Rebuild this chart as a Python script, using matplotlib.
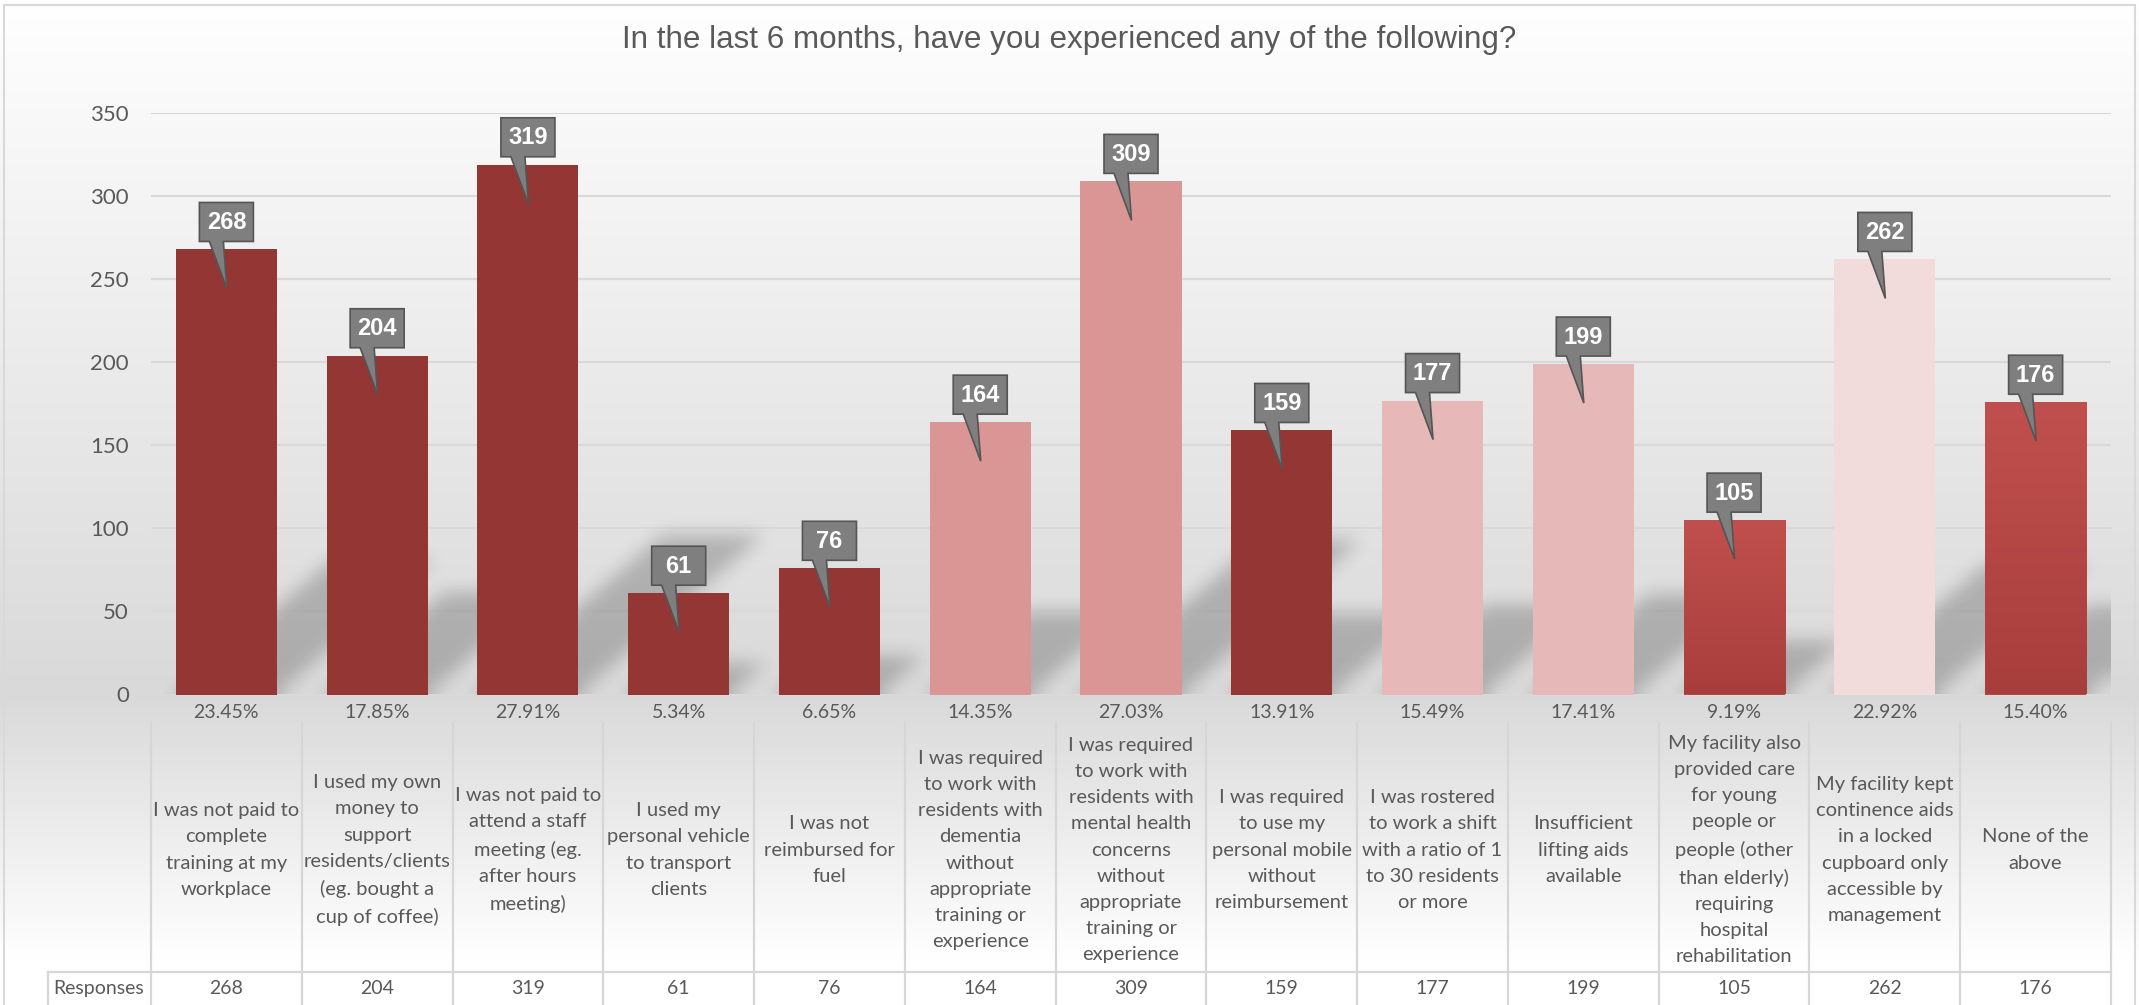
import numpy as np
import matplotlib
matplotlib.use("Agg")
import matplotlib.pyplot as plt
from matplotlib.patches import Polygon, Rectangle
from matplotlib.lines import Line2D
from matplotlib.colors import LinearSegmentedColormap
from matplotlib import transforms

# data
categories = [
    "I was not paid to\ncomplete\ntraining at my\nworkplace",
    "I used my own\nmoney to\nsupport\nresidents/clients\n(eg. bought a\ncup of coffee)",
    "I was not paid to\nattend a staff\nmeeting (eg.\nafter hours\nmeeting)",
    "I used my\npersonal vehicle\nto transport\nclients",
    "I was not\nreimbursed for\nfuel",
    "I was required\nto work with\nresidents with\ndementia\nwithout\nappropriate\ntraining or\nexperience",
    "I was required\nto work with\nresidents with\nmental health\nconcerns\nwithout\nappropriate\ntraining or\nexperience",
    "I was required\nto use my\npersonal mobile\nwithout\nreimbursement",
    "I was rostered\nto work a shift\nwith a ratio of 1\nto 30 residents\nor more",
    "Insufficient\nlifting aids\navailable",
    "My facility also\nprovided care\nfor young\npeople or\npeople (other\nthan elderly)\nrequiring\nhospital\nrehabilitation",
    "My facility kept\ncontinence aids\nin a locked\ncupboard only\naccessible by\nmanagement",
    "None of the\nabove",
]
responses = [268, 204, 319, 61, 76, 164, 309, 159, 177, 199, 105, 262, 176]
percent_labels = ["23.45%", "17.85%", "27.91%", "5.34%", "6.65%", "14.35%", "27.03%",
                  "13.91%", "15.49%", "17.41%", "9.19%", "22.92%", "15.40%"]
title = "In the last 6 months, have you experienced any of the following?"

# styles
bar_colors = ["#943634", "#943634", "#943634", "#943634", "#943634", "#d99694", "#d99694",
              "#943634", "#e6b9b8", "#e6b9b8", "grad", "#f2dcdb", "grad"]
TXT = "#595959"
CAL = ["Lato", "DejaVu Sans"]

W, H = 2139, 1005
fig = plt.figure(figsize=(W / 100, H / 100), dpi=100)

# background gradient (white -> gray at plot bottom -> white)
bg = fig.add_axes([0, 0, 1, 1], zorder=-10)
bg.axis("off")
yy = np.arange(H)
grey = np.interp(yy, [0, 694, 960, H], [255, 217, 255, 255]) / 255.0
grad = np.repeat(grey[:, None], 3, axis=1)[:, None, :]
bg.imshow(grad, aspect="auto", extent=[0, 1, 0, 1], origin="upper")
bg.set_xlim(0, 1)
bg.set_ylim(0, 1)

# main axes
x_left, x_right = 151, 2111
y_top, y_zero = 113.3, 694.5
ax = fig.add_axes([x_left / W, 1 - y_zero / H, (x_right - x_left) / W, (y_zero - y_top) / H])
ax.set_facecolor("none")
for s in ax.spines.values():
    s.set_visible(False)
ax.set_xticks([])
ax.set_yticks(range(0, 351, 50))
ax.tick_params(axis="y", length=0, pad=16, labelcolor=TXT)
for lab in ax.get_yticklabels():
    lab.set_fontfamily(CAL)
    lab.set_fontsize(16)
ax.yaxis.grid(True, color="#d9d9d9", lw=1.6, zorder=0)
ax.set_axisbelow(True)
ax.axhline(0, color="#cfcfcf", lw=1.5, zorder=0.5)

x = np.arange(len(responses))
bw = 0.67

# perspective shadows, rasterised and blurred
pw, ph = x_right - x_left, int(round(y_zero - y_top))
sx, sy = np.meshgrid(np.arange(pw), np.arange(ph))
mask = np.zeros((ph, pw))
for i, v in enumerate(responses):
    x0p = (x[i] - bw / 2 + 0.5) / len(responses) * pw
    x1p = (x[i] + bw / 2 + 0.5) / len(responses) * pw
    hp = v / 350 * ph
    sh, dx = 0.3 * hp, 0.35 * hp
    cond = (sy <= sh) & (sx >= x0p + dx * sy / sh) & (sx <= x1p + dx * sy / sh)
    mask = np.maximum(mask, cond.astype(float))


def box_blur(a, r, axis):
    pad = [(0, 0), (0, 0)]
    pad[axis] = (r + 1, r)
    b = np.pad(a, pad, mode="edge")
    c = np.cumsum(b, axis=axis)
    if axis == 0:
        return (c[2 * r + 1:, :] - c[:-2 * r - 1, :]) / (2 * r + 1)
    return (c[:, 2 * r + 1:] - c[:, :-2 * r - 1]) / (2 * r + 1)


for _ in range(3):
    mask = box_blur(mask, 8, 0)
    mask = box_blur(mask, 8, 1)
shadow = np.zeros((ph, pw, 4))
shadow[..., 3] = mask * 0.21
ax.imshow(shadow, extent=[-0.5, len(responses) - 0.5, 0, 350], origin="lower",
          aspect="auto", zorder=1.5, interpolation="bilinear")

# bars
bars = ax.bar(x, responses, width=bw, color=[c if c != "grad" else "#b44744" for c in bar_colors],
              zorder=2, linewidth=0)
red_grad = np.linspace(0, 1, 256)[:, None]
cm_red = LinearSegmentedColormap.from_list("r", ["#a83e3c", "#c0504d"])
for b, c in zip(bars, bar_colors):
    if c == "grad":
        im = ax.imshow(red_grad, cmap=cm_red, aspect="auto", origin="lower", zorder=2.1,
                       extent=[b.get_x(), b.get_x() + b.get_width(), 0, b.get_height()])
        im.set_clip_path(b)
ax.set_xlim(-0.5, len(responses) - 0.5)
ax.set_ylim(0, 350)

# callouts
ident = transforms.IdentityTransform()
for i, v in enumerate(responses):
    cx, T = ax.transData.transform((x[i], v))
    pts = [(cx - 27, T + 8), (cx - 17, T + 8), (cx + 0.5, T - 39), (cx - 3, T + 8),
           (cx + 27, T + 8), (cx + 27, T + 47), (cx - 27, T + 47)]
    ax.add_patch(Polygon(pts, closed=True, facecolor="#7f7f7f", edgecolor="#555555",
                         lw=1.2, transform=ident, zorder=5, clip_on=False))
    ax.text(cx, T + 27, str(v), transform=ident, ha="center", va="center", color="white",
            fontsize=17, fontweight="bold", family=["Liberation Sans", "DejaVu Sans"],
            zorder=6)

blend = transforms.blended_transform_factory(ax.transData, fig.transFigure)

# percentage row
for i, p in enumerate(percent_labels):
    ax.text(x[i], 1 - 712 / H, p, transform=blend, ha="center", va="center",
            fontsize=14, color=TXT, family=CAL, clip_on=False)

# category labels
for i, c in enumerate(categories):
    ax.text(x[i], 1 - 850 / H, c, transform=blend, ha="center", va="center",
            multialignment="center", fontsize=14.5, color=TXT, family=CAL,
            linespacing=1.66, clip_on=False)

# table lines
line_c = "#d6d6d6"
for b in np.arange(-0.5, len(responses), 1.0):
    fig.add_artist(Line2D([b, b], [1 - 723 / H, 0], transform=blend, color=line_c, lw=1.6))
fig.add_artist(Line2D([48 / W, x_right / W], [1 - 972 / H] * 2, transform=fig.transFigure,
                      color=line_c, lw=1.6))
fig.add_artist(Line2D([48 / W] * 2, [1 - 972 / H, 0], transform=fig.transFigure,
                      color=line_c, lw=1.6))
fig.text(53 / W, 1 - 988 / H, "Responses", ha="left", va="center", fontsize=14,
         color=TXT, family=CAL)
for i, v in enumerate(responses):
    ax.text(x[i], 1 - 988 / H, str(v), transform=blend, ha="center", va="center",
            fontsize=14, color=TXT, family=CAL, clip_on=False)

# title and chart border
fig.text(1069 / W, 1 - 40 / H, title, ha="center", va="center", fontsize=22.6,
         color=TXT, family=["Liberation Sans", "DejaVu Sans"])
fig.add_artist(Rectangle((4 / W, -0.01), (2135 - 4) / W, 1.01 - 5 / H,
                         transform=fig.transFigure, fill=False, edgecolor="#d9d9d9", lw=1.5))

fig.savefig("out.png", dpi=100)
